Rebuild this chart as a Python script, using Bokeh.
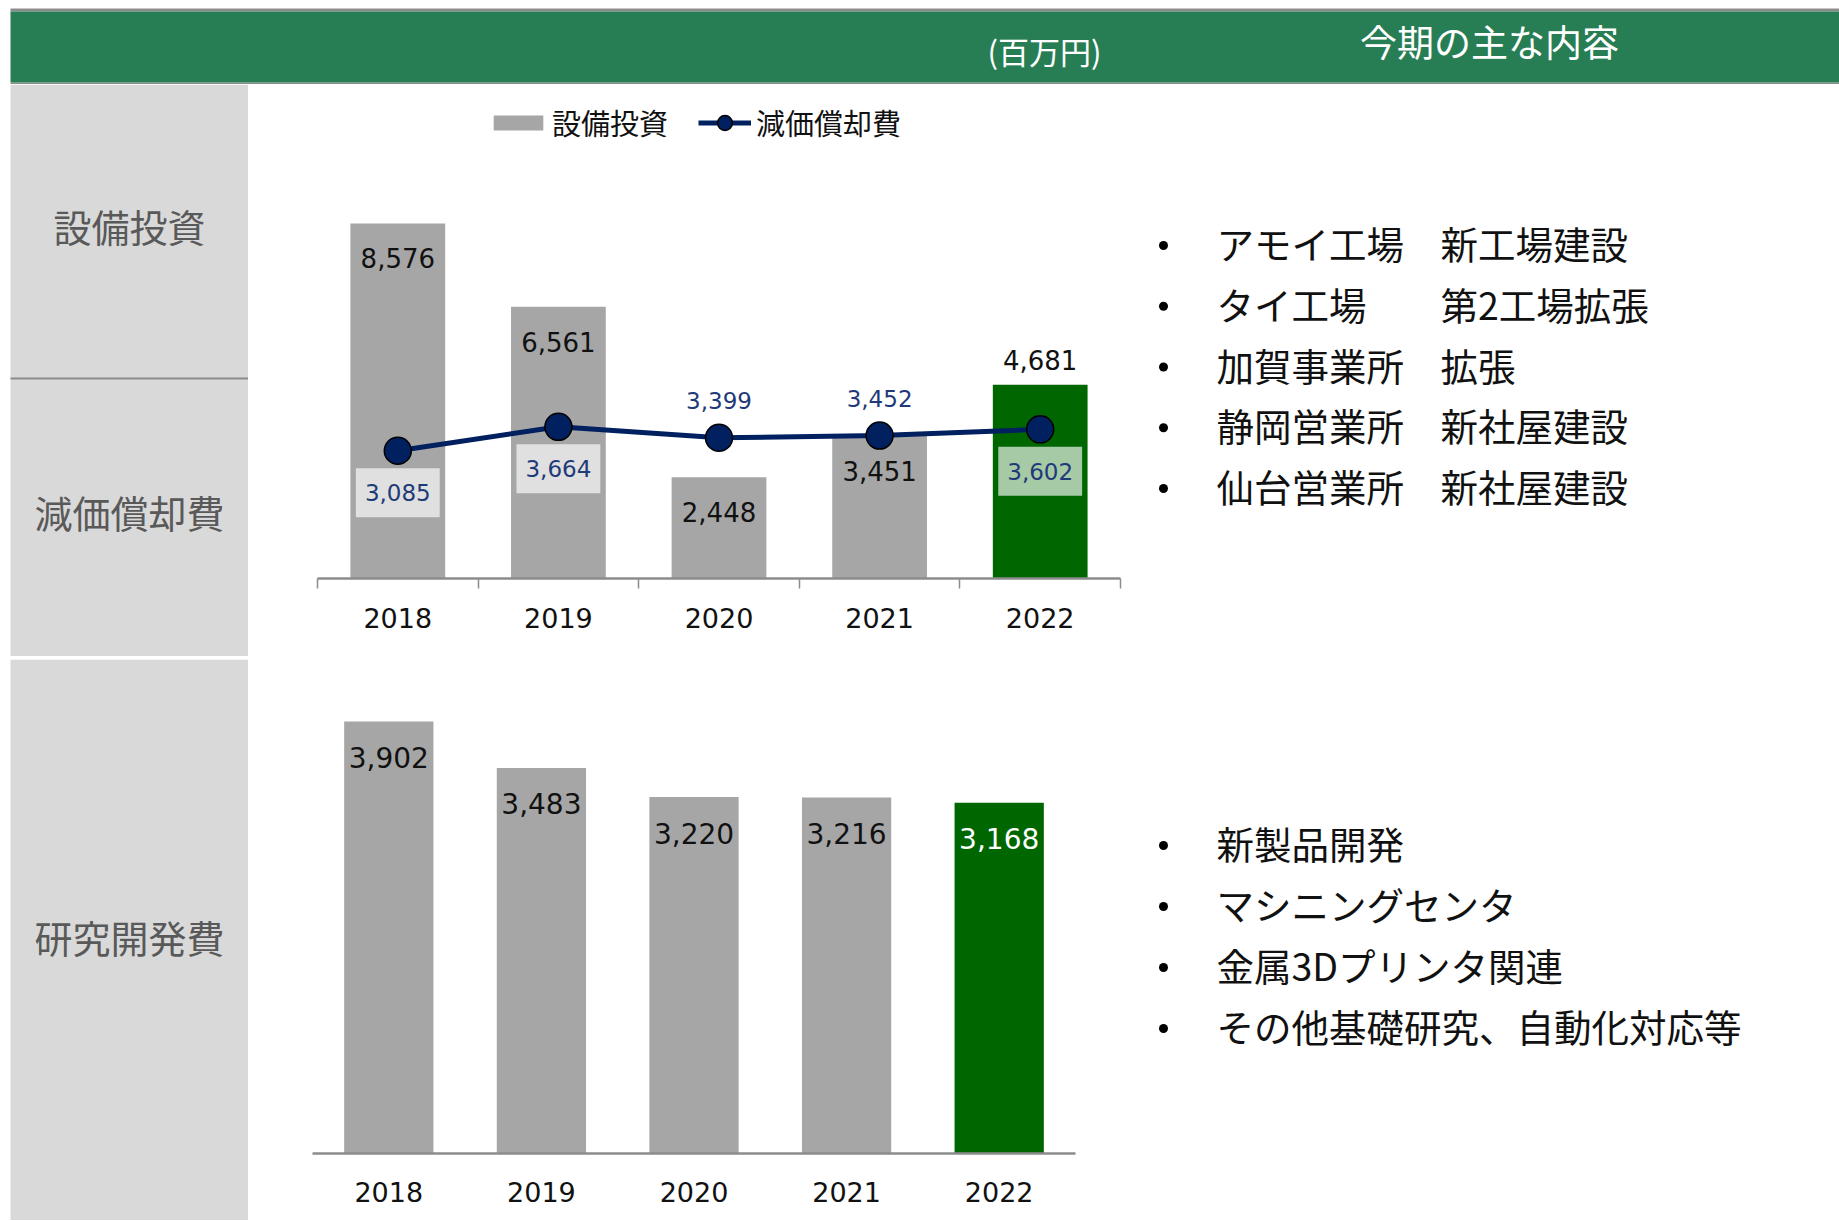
from bokeh.plotting import figure
from bokeh.models import Range1d, FactorRange, ColumnDataSource, FixedTicker, Legend, LegendItem
from bokeh.layouts import column, row
from bokeh.core.properties import value
from bokeh.embed import file_html
from bokeh.resources import INLINE

# ---------------- data ----------------
years = ["2018", "2019", "2020", "2021", "2022"]
capex = [8576, 6561, 2448, 3451, 4681]          # 設備投資
depreciation = [3085, 3664, 3399, 3452, 3602]   # 減価償却費
rnd = [3902, 3483, 3220, 3216, 3168]            # 研究開発費

unit_text = "(百万円)"
header_title = "今期の主な内容"
section_labels = ["設備投資", "減価償却費", "研究開発費"]
legend_labels = ["設備投資", "減価償却費"]
capex_sites = ["アモイ工場", "タイ工場", "加賀事業所", "静岡営業所", "仙台営業所"]
capex_actions = ["新工場建設", "第2工場拡張", "拡張", "新社屋建設", "新社屋建設"]
rnd_notes = ["新製品開発", "マシニングセンタ", "金属3Dプリンタ関連", "その他基礎研究、自動化対応等"]

# ---------------- styles ----------------
JP = value("Noto Sans CJK JP")
NUM = value("DejaVu Sans")
GREEN_HDR = "#287E54"
PANEL = "#D9D9D9"
BAR = "#A6A6A6"
HILITE = "#006600"
NAVY = "#002060"
RULE = "#8C8C8C"

W = 1839
X0 = 10                      # left white margin of the slide
H_HDR, H_S1, H_DIV, H_S2 = 84, 572, 3, 561
W_LEFT, W_CHART = 248, 892
W_RIGHT = W - W_LEFT - W_CHART


def pixel_fig(w, h, bg="white"):
    f = figure(width=w, height=h, x_range=Range1d(0, w), y_range=Range1d(h, 0),
               x_axis_type=None, y_axis_type=None, toolbar_location=None,
               output_backend="svg", min_border=0, outline_line_color=None,
               background_fill_color=bg, border_fill_color=bg, frame_align=False)
    f.grid.visible = False
    return f


# ---------------- header ----------------
hdr = pixel_fig(W, H_HDR)
hdr.quad(left=[X0, X0], right=[W, W], top=[8, 82], bottom=[11, 84], fill_color=RULE, line_color=None)
hdr.quad(left=[X0], right=[W], top=[11], bottom=[82], fill_color=GREEN_HDR, line_color=None)
hdr.text(x=[1044], y=[50], text=[unit_text], text_font=JP, text_font_size="31px",
         text_color="white", text_align="center", text_baseline="middle")
hdr.text(x=[1489], y=[40.5], text=[header_title], text_font=JP, text_font_size="37px",
         text_color="white", text_align="center", text_baseline="middle")

# ---------------- left panels ----------------
left1 = pixel_fig(W_LEFT, H_S1)
left1.quad(left=[X0], right=[W_LEFT], top=[0], bottom=[H_S1], fill_color=PANEL, line_color=None)
left1.segment(x0=[X0], y0=[294], x1=[W_LEFT], y1=[294], line_color=RULE, line_width=2)
left1.text(x=[129, 129], y=[140.5, 426.5], text=section_labels[:2], text_font=JP,
           text_font_size="38px", text_color="#595959", text_align="center", text_baseline="middle")

left2 = pixel_fig(W_LEFT, H_S2)
left2.quad(left=[X0], right=[W_LEFT], top=[0], bottom=[H_S2], fill_color=PANEL, line_color=None)
left2.text(x=[129], y=[276.5], text=section_labels[2:], text_font=JP,
           text_font_size="38px", text_color="#595959", text_align="center", text_baseline="middle")

# ---------------- chart 1: capex + depreciation ----------------
idx = list(range(len(years)))
last = len(years) - 1
bar_colors = [HILITE if i == last else BAR for i in idx]

c1 = figure(width=W_CHART, height=H_S1, x_range=Range1d(-0.5, len(years) - 0.5),
            y_range=Range1d(0, 11932), y_axis_type=None, toolbar_location=None,
            output_backend="svg", min_border_left=69, min_border_right=20,
            min_border_top=0, min_border_bottom=78, outline_line_color=None, frame_align=False)
c1.grid.visible = False

src1 = ColumnDataSource(dict(
    x=idx, top=capex, color=bar_colors,
    lbl=[f"{v:,}" for v in capex],
    off=[-25 if i == last else 35 for i in idx],
))
bars = c1.vbar(x="x", top="top", width=0.59, fill_color="color", line_color=None, source=src1)
c1.text(x="x", y="top", text="lbl", y_offset="off", source=src1, text_font=NUM,
        text_font_size="26px", text_color="#111111", text_align="center", text_baseline="middle")

below = [True, True, False, False, True]
src_d = ColumnDataSource(dict(
    x=idx, y=depreciation, lbl=[f"{v:,}" for v in depreciation],
    off=[42 if b else -37 for b in below],
    bga=[0.65 if b else 0.0 for b in below],
))
dline = c1.line(x="x", y="y", source=src_d, line_color=NAVY, line_width=5)
dpts = c1.scatter(x="x", y="y", source=src_d, size=27, fill_color=NAVY, line_color="black", line_width=1.5)
c1.text(x="x", y="y", text="lbl", y_offset="off", source=src_d, text_font=NUM,
        text_font_size="23px", text_color="#1F3A78", text_align="center", text_baseline="middle",
        background_fill_color="white", background_fill_alpha="bga",
        padding=dict(left=9, right=9, top=16, bottom=16))

ax1 = c1.xaxis[0]
ax1.ticker = FixedTicker(ticks=idx, minor_ticks=[i - 0.5 for i in range(len(years) + 1)])
ax1.major_label_overrides = {i: y for i, y in enumerate(years)}
ax1.major_tick_line_color = None
ax1.major_tick_out = 0
ax1.major_tick_in = 0
ax1.minor_tick_out = 10
ax1.minor_tick_in = 0
ax1.minor_tick_line_color = RULE
ax1.minor_tick_line_width = 1.5
ax1.axis_line_color = RULE
ax1.axis_line_width = 2.5
ax1.major_label_standoff = 19
ax1.major_label_text_font = "DejaVu Sans"
ax1.major_label_text_font_size = "27px"
ax1.major_label_text_color = "#111111"

common_leg = dict(orientation="horizontal", padding=0, margin=0, border_line_color=None,
                  background_fill_alpha=0, label_text_font="Noto Sans CJK JP",
                  label_text_font_size="29px", label_text_color="#111111")
leg1 = Legend(items=[LegendItem(label=legend_labels[0], renderers=[bars], index=0)],
              location=(170, 435), glyph_width=62, glyph_height=19, label_standoff=3, **common_leg)
leg2 = Legend(items=[LegendItem(label=legend_labels[1], renderers=[dline, dpts])],
              location=(381, 435), glyph_width=53, glyph_height=37, label_standoff=5, **common_leg)
c1.add_layout(leg1)
c1.add_layout(leg2)

# ---------------- chart 2: R&D ----------------
c2 = figure(width=W_CHART, height=H_S2, x_range=FactorRange(factors=years, range_padding=0),
            y_range=Range1d(0, 4462), y_axis_type=None, toolbar_location=None,
            output_backend="svg", min_border_left=64, min_border_right=65,
            min_border_top=0, min_border_bottom=H_S2 - 494, outline_line_color=None,
            frame_align=False)
c2.grid.visible = False
src2 = ColumnDataSource(dict(
    x=years, top=rnd, color=bar_colors,
    lbl=[f"{v:,}" for v in rnd],
    tc=["white" if i == last else "#111111" for i in idx],
))
c2.vbar(x="x", top="top", width=0.585, fill_color="color", line_color=None, source=src2)
c2.text(x="x", y="top", text="lbl", y_offset=36, source=src2, text_font=NUM,
        text_font_size="28px", text_color="tc", text_align="center", text_baseline="middle")
ax2 = c2.xaxis[0]
ax2.major_tick_line_color = None
ax2.major_tick_out = 0
ax2.major_tick_in = 0
ax2.axis_line_color = RULE
ax2.axis_line_width = 2.5
ax2.major_label_standoff = 28
ax2.major_label_text_font = "DejaVu Sans"
ax2.major_label_text_font_size = "27px"
ax2.major_label_text_color = "#111111"

# ---------------- right panels ----------------
r1 = pixel_fig(W_RIGHT, H_S1)
rows1 = [158 + 60.75 * k for k in range(len(capex_sites))]
r1.scatter(x=[23] * len(rows1), y=[r + 3 for r in rows1], size=9, fill_color="black", line_color=None)
r1.text(x=[76] * len(rows1), y=rows1, text=capex_sites, text_font=JP, text_font_size="37.5px",
        text_color="#111111", text_align="left", text_baseline="middle")
r1.text(x=[300] * len(rows1), y=rows1, text=capex_actions, text_font=JP, text_font_size="37.5px",
        text_color="#111111", text_align="left", text_baseline="middle")

r2 = pixel_fig(W_RIGHT, H_S2)
rows2 = [183 + 61 * k for k in range(len(rnd_notes))]
r2.scatter(x=[23] * len(rows2), y=[r + 3 for r in rows2], size=9, fill_color="black", line_color=None)
r2.text(x=[76] * len(rows2), y=rows2, text=rnd_notes, text_font=JP, text_font_size="37.5px",
        text_color="#111111", text_align="left", text_baseline="middle")

# ---------------- divider ----------------
div = pixel_fig(W, H_DIV)
div.quad(left=[X0], right=[W], top=[0], bottom=[H_DIV], fill_color=RULE, line_color=None)

layout = column(hdr, row(left1, c1, r1, spacing=0), div, row(left2, c2, r2, spacing=0), spacing=0)
open("out.html", "w").write(file_html(layout, INLINE))
